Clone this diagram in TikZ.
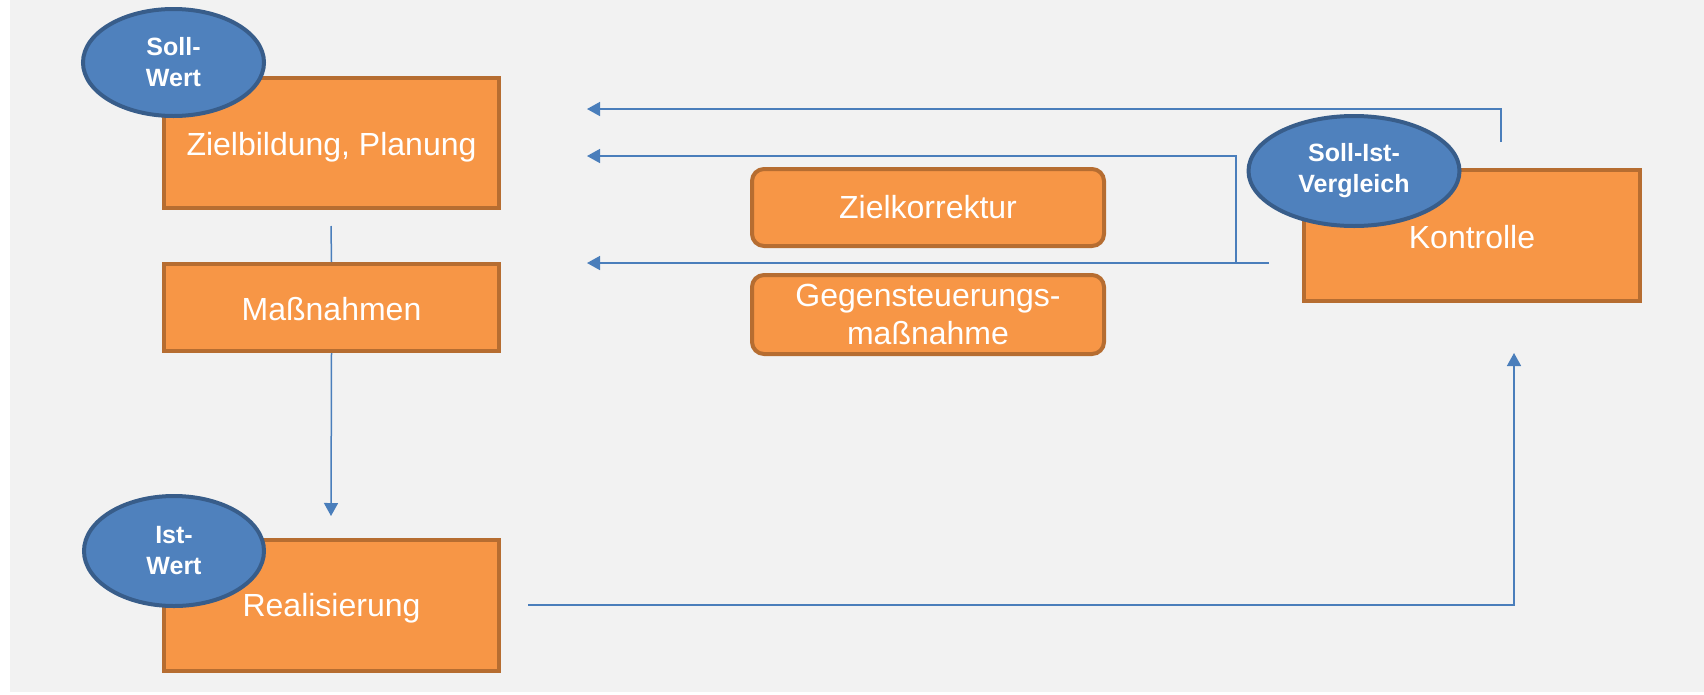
\documentclass[tikz,border=0pt]{standalone}
\usepackage{fontspec}
\setmainfont{Liberation Sans}
\usetikzlibrary{arrows.meta,shapes.geometric}
\definecolor{bg}{HTML}{F2F2F2}
\definecolor{orfill}{HTML}{F79646}
\definecolor{ordraw}{HTML}{B66D31}
\definecolor{blfill}{HTML}{4F81BD}
\definecolor{bldraw}{HTML}{385D8A}
\definecolor{conncol}{HTML}{4A7EBB}
\begin{document}
\begin{tikzpicture}[x=1pt,y=-1pt,
  box/.style={draw=ordraw,fill=orfill,line width=4pt,text=white,font=\fontsize{32}{38}\selectfont,inner sep=0pt,align=center,minimum width=335pt},
  onebox/.style={box,text height=25pt,text depth=0pt},
  rbox/.style={box,rounded corners=12pt,minimum width=352pt},
  oval/.style={ellipse,draw=bldraw,fill=blfill,line width=4pt,text=white,font=\bfseries\fontsize{25}{31}\selectfont,inner sep=0pt,align=center},
  conn/.style={draw=conncol,line width=1.5pt},
  arr/.style={conn,-{Triangle[length=13pt,width=14pt]}}]
\useasboundingbox (0,0) rectangle (1704,694);
\fill[white] (0,0) rectangle (1704,694);
\fill[bg] (10,0) rectangle (1704,692);

% boxes
\node[onebox,minimum height=130pt] (ziel) at (331.5,143) {Zielbildung, Planung};
\node[onebox,minimum height=87pt] (mass) at (331.5,307.5) {Maßnahmen};
\node[onebox,text height=21pt,minimum height=131pt] (real) at (331.5,605.5) {Realisierung};
\node[rbox,minimum height=77pt] (korr) at (928,207.5) {Zielkorrektur};
\node[rbox,minimum height=79pt] (gegen) at (928,314.5) {Gegensteuerungs-\\maßnahme};
\node[onebox,minimum width=336pt,minimum height=131pt] (kontr) at (1472,235.5) {Kontrolle};

% ellipses
\node[oval,minimum width=181pt,minimum height=107pt] (soll) at (173.5,62.5) {Soll-\\Wert};
\node[oval,minimum width=180pt,minimum height=110pt] (ist) at (174,551) {Ist-\\Wert};
\node[oval,minimum width=211pt,minimum height=110pt] (vgl) at (1354,171) {Soll-Ist-\\Vergleich};

% free ends
\coordinate (zs) at (331,226);
\coordinate (rt) at (331,516);
\coordinate (rs) at (528,605);
\coordinate (rc) at (1514,605);
\coordinate (kt) at (1514,353);
\coordinate (a1s) at (1501,142);
\coordinate (a1c) at (1501,109);
\coordinate (a1t) at (587,109);
\coordinate (a3s) at (1269,263);
\coordinate (a3t) at (587,263);
\coordinate (a2j) at (1236,263);
\coordinate (a2c) at (1236,156);
\coordinate (a2t) at (587,156);

% connectors
\draw[conn] (zs) -- (mass.north);
\draw[arr] (mass.south) -- (rt);
\draw[arr] (rs) -- (rc) -- (kt);
\draw[arr] (a1s) -- (a1c) -- (a1t);
\draw[arr] (a2j) -- (a2c) -- (a2t);
\draw[arr] (a3s) -- (a3t);
\end{tikzpicture}
\end{document}
